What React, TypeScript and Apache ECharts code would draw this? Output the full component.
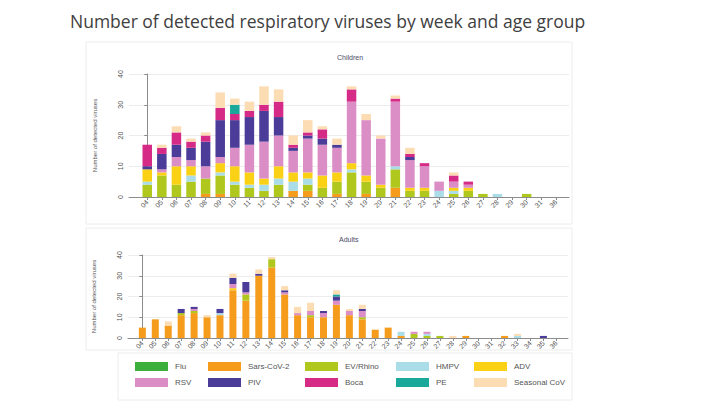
import React, { useEffect, useRef } from "react";
import * as echarts from "echarts";

// Weeks shown on each panel
const childWeeks = ["04","05","06","07","08","09","10","11","12","13","14","15","16","17","18","19","20","21","22","23","24","25","26","27","28","29","30","31","36"];
const adultWeeks = ["04","05","06","07","08","09","10","11","12","13","14","15","16","17","18","19","20","21","22","23","24","25","26","27","28","29","30","31","32","33","34","35","36"];

const virusNames = ["Flu","Sars-CoV-2","EV/Rhino","HMPV","ADV","RSV","PIV","Boca","PE","Seasonal CoV"];
const virusColors = ["#3cae3c","#f59c1c","#b0c81e","#abdde8","#fbd116","#db8dc6","#4a3c98","#d62a87","#1aa89a","#fcdcb2"];

// Children: detected viruses per week
const childFlu   = [0,0,0,0,0,0,0,0,0,0,0,0,0,0,0,0,0,0,0,0,0,0,0,0,0,0,0,0,0];
const childSars  = [0,0,0,0,1,1,0,0,0,0,2,2,0,1,0,1,0,3,0,0,0,0,0,0,0,0,0,0,0];
const childEv    = [4,7,4,5,5,6,4,3,2,4,0,2,3,4,8,4,3,6,2,2,0,1,2,1,0,0,1,0,0];
const childHmpv  = [1,0,0,2,0,1,1,1,2,2,3,2,0,0,1,0,0,1,0,0,2,1,0,0,1,0,0,0,0];
const childAdv   = [4,1,6,3,0,3,5,4,2,4,3,2,4,3,2,2,1,0,1,1,0,1,1,0,0,0,0,0,0];
const childRsv   = [0,1,3,2,4,2,6,9,12,10,7,11,10,8,20,18,15,21,9,7,3,2,1,0,0,0,0,0,0];
const childPiv   = [1,5,4,4,8,12,9,9,10,6,1,1,2,1,0,0,0,0,1,0,0,0,0,0,0,0,0,0,0];
const childBoca  = [7,2,4,2,2,4,2,2,2,5,1,1,3,0,4,0,0,1,1,1,0,2,1,0,0,0,0,0,0];
const childPe    = [0,0,0,0,0,0,3,0,0,0,0,0,0,0,0,0,0,0,0,0,0,0,0,0,0,0,0,0,0];
const childScov  = [0,1,2,1,1,5,2,3,6,4,3,4,1,2,1,2,1,1,2,0,0,1,0,0,0,0,0,0,0];

// Adults: detected viruses per week
const adultFlu   = [0,0,0,0,0,0,0,0,0,0,0,0,0,0,0,0,0,0,0,0,0,0,0,0,0,0,0,0,0,0,0,0,0];
const adultSars  = [5,9,6,11,12,10,11,23,18,30,34,21,11,10,10,16,11,9,4,5,1,0,0,0,0,1,0,0,1,0,0,0,0];
const adultEv    = [0,0,0,1,1,0,0,0,3,0,4,0,0,1,0,0,0,1,0,0,0,2,1,1,0,0,0,0,0,0,0,0,0];
const adultHmpv  = [0,0,0,0,0,0,1,0,0,0,0,0,0,0,0,0,0,0,0,0,2,0,1,0,0,0,0,0,0,1,0,0,0];
const adultAdv   = [0,0,0,0,0,0,0,1,0,0,0,0,0,0,0,0,0,0,0,0,0,0,0,0,0,0,0,0,0,0,0,0,0];
const adultRsv   = [0,0,0,0,1,0,0,2,1,0,0,1,1,2,2,2,2,3,0,0,0,1,1,0,0,0,0,0,0,0,0,0,0];
const adultPiv   = [0,0,0,2,1,0,2,3,5,1,0,1,0,0,1,2,0,1,0,0,0,0,0,0,0,0,0,0,0,0,0,1,0];
const adultBoca  = [0,0,0,0,0,0,0,0,0,0,0,0,0,0,0,0,0,0,0,0,0,0,0,0,0,0,0,0,0,0,0,0,0];
const adultPe    = [0,0,0,0,0,0,0,0,0,0,0,0,0,0,0,1,0,0,0,0,0,0,0,0,0,0,0,0,0,0,0,0,0];
const adultScov  = [0,0,2,0,0,1,0,2,0,2,1,2,3,4,0,2,1,2,0,0,0,0,0,0,1,0,0,0,0,1,0,0,0];

const yTicks = [0, 10, 20, 30, 40];

const childSeries = [childFlu, childSars, childEv, childHmpv, childAdv, childRsv, childPiv, childBoca, childPe, childScov];
const adultSeries = [adultFlu, adultSars, adultEv, adultHmpv, adultAdv, adultRsv, adultPiv, adultBoca, adultPe, adultScov];

const smallFont = "Liberation Sans, Arial, sans-serif";
const axisGray = "#8c8c8c";
const labelGray = "#555555";

function xAxisFor(weeks: string[], gridIndex: number, min: number, max: number) {
  const idx = weeks.map((_, i) => i);
  return {
    type: "value" as const,
    gridIndex,
    min,
    max,
    axisLine: { show: true, onZero: false, lineStyle: { color: axisGray, width: 1 } },
    axisTick: { show: true, customValues: idx, length: 3, lineStyle: { color: axisGray } },
    axisLabel: {
      customValues: idx,
      formatter: (v: number) => weeks[Math.round(v)] ?? "",
      rotate: 45,
      fontSize: 7,
      color: labelGray,
      fontFamily: smallFont,
      margin: 4,
    },
    splitLine: { show: false },
  };
}

function yAxisFor(gridIndex: number) {
  return {
    type: "value" as const,
    gridIndex,
    min: 0,
    max: 40,
    interval: 10,
    name: "Number of detected viruses",
    nameLocation: "middle" as const,
    nameRotate: 90,
    nameGap: 31,
    nameTextStyle: { fontSize: 6, color: labelGray, fontFamily: smallFont },
    axisLine: { show: true, lineStyle: { color: axisGray, width: 1 } },
    axisTick: { show: true, length: 3, lineStyle: { color: axisGray } },
    axisLabel: {
      customValues: yTicks,
      rotate: 90,
      fontSize: 7,
      color: labelGray,
      fontFamily: smallFont,
      margin: 5,
    },
    splitLine: { show: true, lineStyle: { color: "#ececec", width: 1 } },
  };
}

// Each point is [count, weekIndex] so the count is the stacked dimension
function barsFor(data: number[][], gridIndex: number, width: number) {
  return data.map((vals, k) => ({
    type: "bar" as const,
    name: virusNames[k],
    stack: "g" + gridIndex,
    xAxisIndex: gridIndex,
    yAxisIndex: gridIndex,
    barWidth: width,
    encode: { x: 1, y: 0 },
    itemStyle: { color: virusColors[k] },
    data: vals.map((v, i) => [v, i]),
  }));
}

// Legend laid out as two rows of five, each entry placed in its column
const legendCols = [135, 208, 305, 396, 474];
const legendRows = [362, 378];

export default function App() {
  const ref = useRef<HTMLDivElement>(null);

  useEffect(() => {
    if (!ref.current) return;
    const chart = echarts.init(ref.current, null, { renderer: "svg" });

    const legends = virusNames.map((name, k) => ({
      data: [name],
      left: legendCols[k % 5],
      top: legendRows[Math.floor(k / 5)],
      itemWidth: 33,
      itemHeight: 9,
      itemGap: 0,
      icon: "rect",
      padding: 0,
      selectedMode: false,
      textStyle: { fontSize: 8, color: labelGray, fontFamily: smallFont, padding: [0, 0, 0, 2] },
    }));

    chart.setOption({
      animation: false,
      backgroundColor: "#ffffff",
      title: [
        {
          text: "Number of detected respiratory viruses by week and age group",
          left: 70,
          top: 12,
          padding: 0,
          textStyle: { fontSize: 17.5, fontWeight: "normal", color: "#404040", fontFamily: "Open Sans, sans-serif" },
        },
        {
          text: "Children",
          left: 337,
          top: 54,
          padding: 0,
          textStyle: { fontSize: 7, fontWeight: "normal", color: "#4a4a66", fontFamily: smallFont },
        },
        {
          text: "Adults",
          left: 339,
          top: 236,
          padding: 0,
          textStyle: { fontSize: 7, fontWeight: "normal", color: "#4a4a66", fontFamily: smallFont },
        },
      ],
      legend: legends,
      grid: [
        { left: 129, top: 74, right: 151, bottom: 219 },
        { left: 128, top: 255, right: 152, bottom: 78 },
      ],
      xAxis: [
        xAxisFor(childWeeks, 0, -1.25, 28.9),
        xAxisFor(adultWeeks, 1, -1.11, 32.9),
      ],
      yAxis: [yAxisFor(0), yAxisFor(1)],
      series: [...barsFor(childSeries, 0, 9.5), ...barsFor(adultSeries, 1, 7)],
      graphic: [
        { type: "rect", shape: { x: 86, y: 42, width: 486, height: 182 }, style: { fill: "none", stroke: "#ececec", lineWidth: 1 }, silent: true },
        { type: "rect", shape: { x: 86, y: 228, width: 486, height: 122 }, style: { fill: "none", stroke: "#ececec", lineWidth: 1 }, silent: true },
        { type: "rect", shape: { x: 118, y: 353, width: 454, height: 47 }, style: { fill: "none", stroke: "#ececec", lineWidth: 1 }, silent: true },
      ],
    });

    return () => chart.dispose();
  }, []);

  return (
    <div
      ref={ref}
      style={{ position: "fixed", left: 0, top: 0, width: 720, height: 416, background: "#fff" }}
    />
  );
}
